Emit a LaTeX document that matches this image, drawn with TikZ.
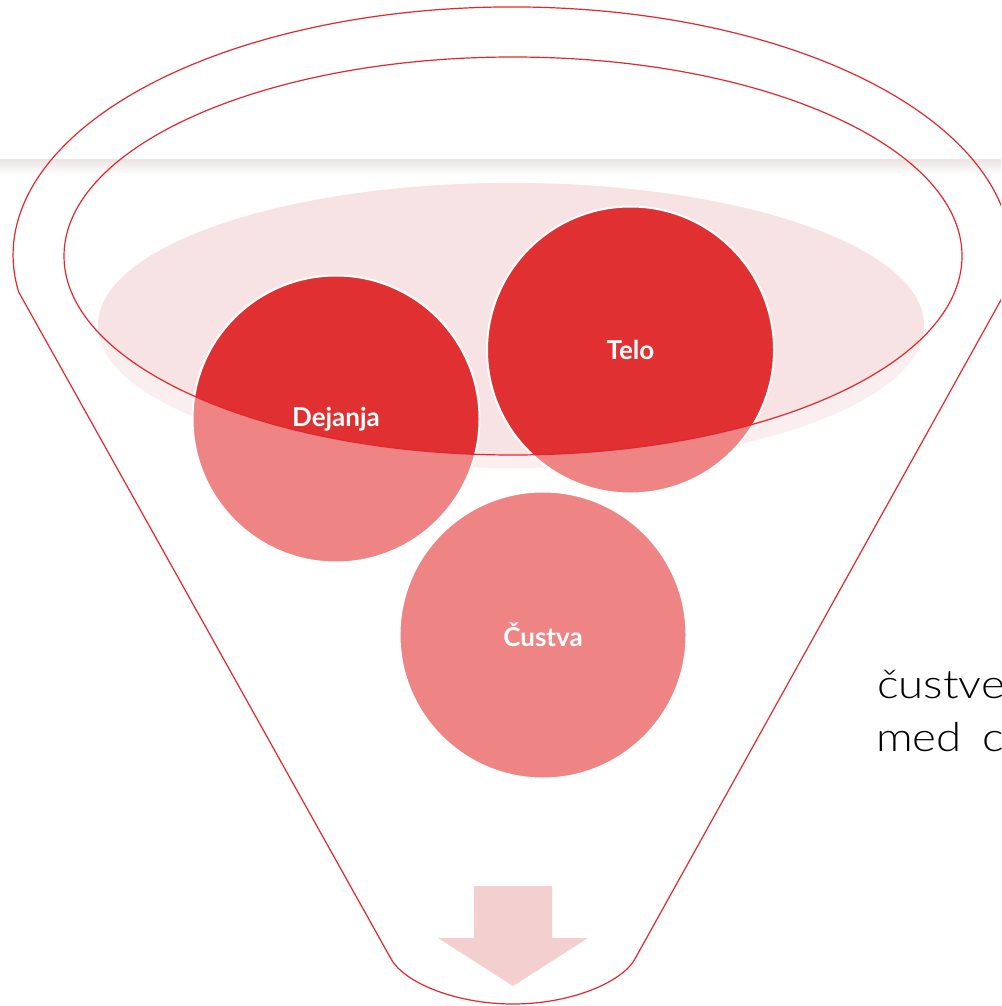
\documentclass[tikz,border=0pt]{standalone}
\usepackage{fontspec}
\setmainfont{Lato}
\newfontfamily\lblfont{Lato}
\newfontfamily\sidefont{Lato Light}[FakeStretch=1.14]
\definecolor{fred}{HTML}{E0282E}
\definecolor{dred}{HTML}{E03031}
\definecolor{lred}{HTML}{EE8484}
\definecolor{pinkA}{HTML}{FBEEEE}
\definecolor{pinkB}{HTML}{F8E3E4}
\definecolor{arrowc}{HTML}{F4CFCF}
\definecolor{sepc}{HTML}{ECE5E3}
\begin{document}
\begin{tikzpicture}[x=1pt,y=-1pt,
  bubble/.style={circle, minimum size=287pt, inner sep=0pt, draw=white, line width=2pt,
    text=white, font=\lblfont\bfseries\fontsize{26pt}{30pt}\selectfont},
  funnelline/.style={draw=fred, line width=1.2pt},
  sidetext/.style={anchor=base west, inner sep=0pt, text=black, font=\sidefont\fontsize{40pt}{48pt}\selectfont}]
\useasboundingbox (0,0) rectangle (1001,1006);
\clip (0,0) rectangle (1001,1006);
\fill[white] (0,0) rectangle (1001,1006);
% separator band
\shade[top color=sepc, bottom color=white] (0,160) rectangle (1001,174);
\fill[sepc] (0,158.5) rectangle (1001,161.5);
% pale ellipse
\fill[pinkA] (511,325.5) ellipse [x radius=413, y radius=142.5];
\begin{scope}
  \clip (513,256) ellipse [x radius=449, y radius=199];
  \fill[pinkB] (511,325.5) ellipse [x radius=413, y radius=142.5];
\end{scope}
% circle fills
\fill[lred] (336,419) circle [radius=143.5];
\fill[lred] (630.5,350) circle [radius=143.5];
\fill[lred] (543,635) circle [radius=143.5];
\begin{scope}
  \clip (513,256) ellipse [x radius=449, y radius=199];
  \fill[dred] (336,419) circle [radius=143.5];
  \fill[dred] (630.5,350) circle [radius=143.5];
  \fill[dred] (543,635) circle [radius=143.5];
\end{scope}
% circle nodes with outline and labels
\node[bubble] (dej) at (336,419) {Dejanja};
\node[bubble] (tel) at (630.5,350) {Telo};
\node[bubble] (cus) at (543,635) {Čustva};
% inner rim
\draw[funnelline] (513,256) ellipse [x radius=449, y radius=199];
% funnel outline
\draw[funnelline] (1005.4,292) arc [start angle=8.6, end angle=-188.6, x radius=499, y radius=248]
  -- (390,957) .. controls (402,982) and (455,1004) .. (513,1004)
  .. controls (571,1004) and (624,982) .. (636,957) -- cycle;
% arrow
\fill[arrowc] (474,886) -- (552,886) -- (552,938) -- (588,938) -- (513,986) -- (438,938) -- (474,938) -- cycle;
% side text
\node[sidetext] (t1) at (877,698) {čustve};
\node[sidetext] (t2) at (876,751) {med\kern8pt\ c};
\end{tikzpicture}
\end{document}
